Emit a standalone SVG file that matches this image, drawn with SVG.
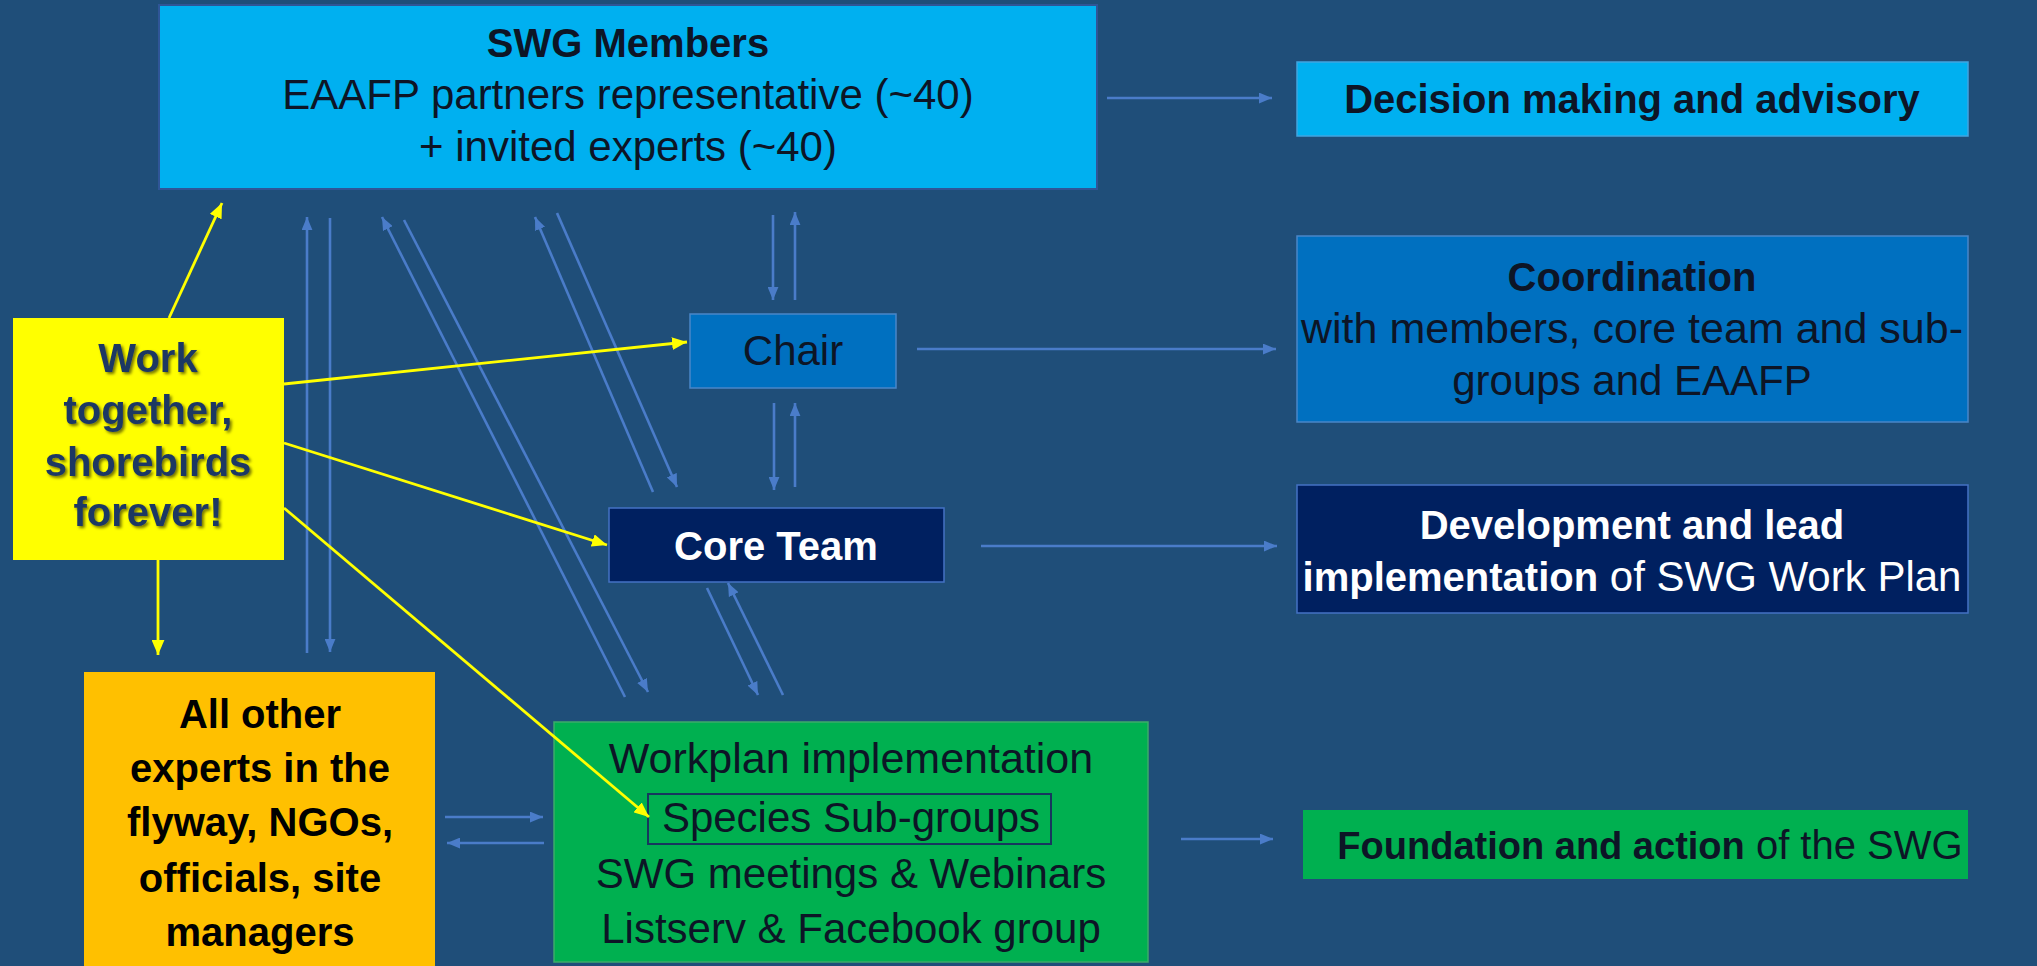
<svg xmlns="http://www.w3.org/2000/svg" width="2037" height="966" viewBox="0 0 2037 966">
<style>
text{font-family:"Liberation Sans",Arial,sans-serif;text-anchor:middle}
.r{font-size:42px}
.b{font-size:40px;font-weight:bold}
.dk{fill:#0D1526}
.wh{fill:#FFFFFF}
.bl{stroke:#4A7CC9;stroke-width:2.6;fill:none}
.yl{stroke:#FFFF00;stroke-width:2.8;fill:none}
.ye{fill:#1F3864;font-size:40px;font-weight:bold}
</style>
<defs>
<marker id="ab" viewBox="0 0 12 10" refX="12" refY="5" markerWidth="13" markerHeight="11" orient="auto" markerUnits="userSpaceOnUse"><path d="M0,0 L12,5 L0,10 z" fill="#4A7CC9"/></marker>
<marker id="ay" viewBox="0 0 14 12" refX="14" refY="6" markerWidth="15" markerHeight="13" orient="auto" markerUnits="userSpaceOnUse"><path d="M0,0 L14,6 L0,12 z" fill="#FFFF00"/></marker>
<filter id="sh" x="-10%" y="-10%" width="130%" height="140%"><feDropShadow dx="2" dy="2" stdDeviation="1.5" flood-color="#000000" flood-opacity="0.55"/></filter>
</defs>
<rect x="0" y="0" width="2037" height="966" fill="#1F4E79"/>

<g id="swg-members">
<rect x="159" y="5" width="938" height="184" fill="#00B0F0" stroke="#2F5597" stroke-width="2"/>
<text class="b dk" x="628" y="57">SWG Members</text>
<text class="r dk" x="628" y="109">EAAFP partners representative (~40)</text>
<text class="r dk" x="628" y="161">+ invited experts (~40)</text>
</g>

<g id="decision">
<rect x="1297" y="62" width="671" height="74" fill="#00B0F0" stroke="#41A5E0" stroke-width="1.5"/>
<text class="b dk" x="1632" y="113">Decision making and advisory</text>
</g>

<g id="coordination">
<rect x="1297" y="236" width="671" height="186" fill="#0070C0" stroke="#4A86C8" stroke-width="1.5"/>
<text class="b dk" x="1632" y="291">Coordination</text>
<text class="dk" x="1632" y="343" font-size="43">with members, core team and sub-</text>
<text class="r dk" x="1632" y="395">groups and EAAFP</text>
</g>

<g id="development">
<rect x="1297" y="485" width="671" height="128" fill="#002060" stroke="#4472C4" stroke-width="1.5"/>
<text class="b wh" x="1632" y="539">Development and lead</text>
<text class="wh" x="1632" y="591"><tspan class="b">implementation</tspan><tspan class="r"> of SWG Work Plan</tspan></text>
</g>

<g id="foundation">
<rect x="1303" y="810" width="665" height="69" fill="#00B050"/>
<text class="dk" x="1650" y="859"><tspan font-size="38" font-weight="bold">Foundation and action</tspan><tspan font-size="40"> of the SWG</tspan></text>
</g>

<g id="chair">
<rect x="690" y="314" width="206" height="74" fill="#0070C0" stroke="#4A86C8" stroke-width="1.5"/>
<text class="r dk" x="793" y="365">Chair</text>
</g>

<g id="core-team">
<rect x="609" y="508" width="335" height="74" fill="#002060" stroke="#4472C4" stroke-width="1.5"/>
<text class="b wh" x="776" y="560">Core Team</text>
</g>

<g id="workplan">
<rect x="554" y="722" width="594" height="240" fill="#00B050" stroke="#3DAA6A" stroke-width="1.5"/>
<rect x="648" y="794" width="403" height="50" fill="none" stroke="#17375E" stroke-width="2"/>
<text class="dk" x="851" y="773" font-size="43">Workplan implementation</text>
<text class="r dk" x="851" y="832">Species Sub-groups</text>
<text class="r dk" x="851" y="888">SWG meetings &amp; Webinars</text>
<text class="r dk" x="851" y="943">Listserv &amp; Facebook group</text>
</g>

<g id="work-together">
<rect x="13" y="318" width="271" height="242" fill="#FFFF00"/>
<g filter="url(#sh)">
<text class="ye" x="148" y="372">Work</text>
<text class="ye" x="148" y="424">together,</text>
<text class="ye" x="148" y="476">shorebirds</text>
<text class="ye" x="148" y="526">forever!</text>
</g>
</g>

<g id="other-experts">
<rect x="84" y="672" width="351" height="300" fill="#FFC000"/>
<text class="b" fill="#000000" x="260" y="728">All other</text>
<text class="b" fill="#000000" x="260" y="782">experts in the</text>
<text class="b" fill="#000000" x="260" y="836">flyway, NGOs,</text>
<text class="b" fill="#000000" x="260" y="892">officials, site</text>
<text class="b" fill="#000000" x="260" y="946">managers</text>
</g>

<g id="connectors">
<line class="bl" x1="1107" y1="98" x2="1272" y2="98" marker-end="url(#ab)"/>
<line class="bl" x1="917" y1="349" x2="1276" y2="349" marker-end="url(#ab)"/>
<line class="bl" x1="981" y1="546" x2="1277" y2="546" marker-end="url(#ab)"/>
<line class="bl" x1="1181" y1="839" x2="1273" y2="839" marker-end="url(#ab)"/>
<line class="bl" x1="773" y1="215" x2="773" y2="300" marker-end="url(#ab)"/>
<line class="bl" x1="795" y1="300" x2="795" y2="212" marker-end="url(#ab)"/>
<line class="bl" x1="774" y1="403" x2="774" y2="490" marker-end="url(#ab)"/>
<line class="bl" x1="795" y1="487" x2="795" y2="403" marker-end="url(#ab)"/>
<line class="bl" x1="307" y1="653" x2="307" y2="217" marker-end="url(#ab)"/>
<line class="bl" x1="330" y1="218" x2="330" y2="652" marker-end="url(#ab)"/>
<line class="bl" x1="625" y1="697" x2="382" y2="217" marker-end="url(#ab)"/>
<line class="bl" x1="404" y1="220" x2="648" y2="692" marker-end="url(#ab)"/>
<line class="bl" x1="653" y1="492" x2="535" y2="217" marker-end="url(#ab)"/>
<line class="bl" x1="557" y1="213" x2="677" y2="487" marker-end="url(#ab)"/>
<line class="bl" x1="707" y1="588" x2="758" y2="695" marker-end="url(#ab)"/>
<line class="bl" x1="783" y1="695" x2="728" y2="583" marker-end="url(#ab)"/>
<line class="bl" x1="445" y1="817" x2="543" y2="817" marker-end="url(#ab)"/>
<line class="bl" x1="544" y1="843" x2="447" y2="843" marker-end="url(#ab)"/>
<line class="yl" x1="169" y1="318" x2="222" y2="203" marker-end="url(#ay)"/>
<line class="yl" x1="284" y1="384" x2="687" y2="342" marker-end="url(#ay)"/>
<line class="yl" x1="284" y1="443" x2="607" y2="545" marker-end="url(#ay)"/>
<line class="yl" x1="284" y1="508" x2="649" y2="817" marker-end="url(#ay)"/>
<line class="yl" x1="158" y1="560" x2="158" y2="655" marker-end="url(#ay)"/>
</g>
</svg>
